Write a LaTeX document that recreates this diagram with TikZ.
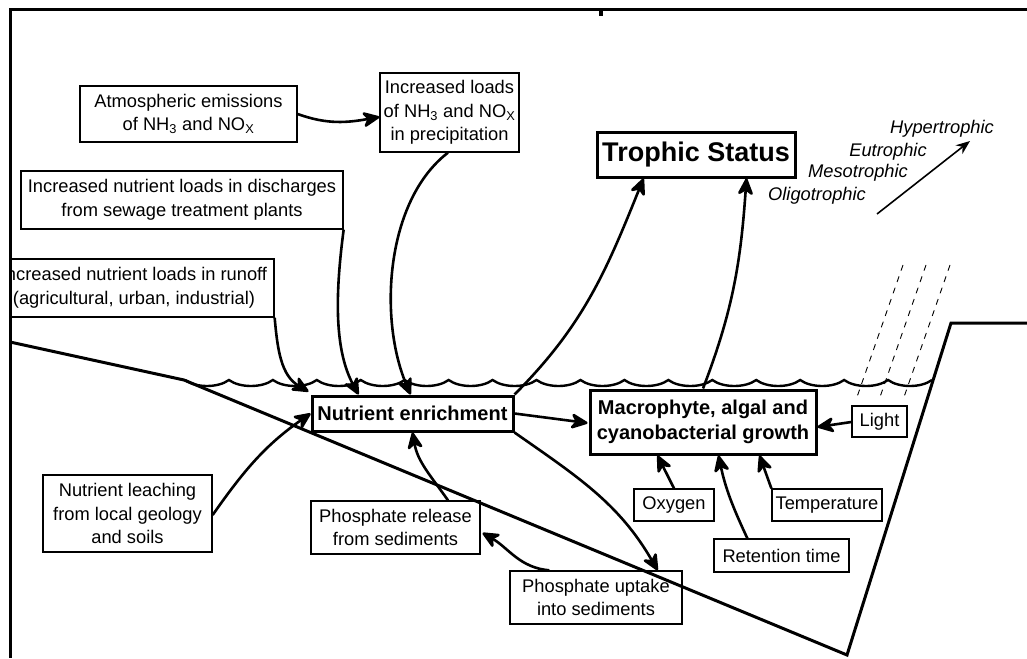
\documentclass[tikz,border=0pt]{standalone}
\usepackage{fontspec}
\setmainfont{Liberation Sans}
\usetikzlibrary{arrows.meta,calc}
\begin{document}
\begin{tikzpicture}[x=1pt,y=1pt,
  box/.style={draw, line width=1.3pt, inner sep=0pt, align=center, font=\fontsize{18.3}{23.5}\selectfont},
  bbox/.style={draw, line width=3pt, inner sep=0pt, align=center, font=\bfseries\fontsize{20}{25}\selectfont},
  conn/.style={line width=2.6pt, -{Stealth[length=20pt,width=18pt,inset=6pt,round]}},
  lbl/.style={font=\itshape\fontsize{18.3}{22}\selectfont, inner sep=0pt},
  frame/.style={line width=3pt},
  bank/.style={line width=3pt, line join=miter},
  wave/.style={line width=2.4pt},
  ray/.style={line width=0.9pt, dash pattern=on 6pt off 6pt}
]
\path[use as bounding box] (0,0) rectangle (1027,-658);

% ground / basin
\coordinate (b0) at (10,-342);
\coordinate (b1) at (184,-380);
\coordinate (b2) at (847,-655);
\coordinate (b3) at (951,-323);
\coordinate (b4) at (1027,-323);
\draw[bank] (b0) -- (b1) -- (b2) -- (b3) -- (b4);

% water surface
\coordinate (wl) at (185,-380);
\draw[wave] (wl) \foreach \i in {1,...,17}{ .. controls +(11,-8) and +(-11,-8) .. ++(43.94,0)};

% light rays
\coordinate (r1a) at (903,-265); \coordinate (r1b) at (857,-397);
\coordinate (r2a) at (926,-265); \coordinate (r2b) at (880,-397);
\coordinate (r3a) at (950,-265); \coordinate (r3b) at (904,-397);
\draw[ray] (r1a) -- (r1b);
\draw[ray] (r2a) -- (r2b);
\draw[ray] (r3a) -- (r3b);

% boxes
\node[box, minimum width=217, minimum height=56] (atm) at (188.5,-114) {Atmospheric emissions\\of NH\textsubscript{3} and NO\textsubscript{X}};
\node[box, minimum width=139, minimum height=79] (loads) at (449.5,-112.5) {Increased loads\\of NH\textsubscript{3} and NO\textsubscript{X}\\in precipitation};
\node[bbox, minimum width=198, minimum height=45, font=\bfseries\fontsize{27}{32}\selectfont] (trophic) at (696,-154.5) {Trophic Status};
\node[box, minimum width=322, minimum height=58] (disch) at (182,-200) {Increased nutrient loads in discharges\\from sewage treatment plants};
\begin{scope}
  \clip (11.5,0) rectangle (1027,-658);
  \node[box, minimum width=280, minimum height=58] (runoff) at (134,-288) {Increased nutrient loads in runoff\\(agricultural, urban, industrial)};
\end{scope}
\node[bbox, minimum width=201, minimum height=35] (ne) at (412.5,-413.5) {Nutrient enrichment};
\node[bbox, minimum width=226, minimum height=64] (macro) at (703,-422) {Macrophyte, algal and\\cyanobacterial growth};
\node[box, minimum width=55, minimum height=31] (light) at (879.5,-421.5) {Light};
\node[box, minimum width=80, minimum height=32] (oxygen) at (674,-505) {Oxygen};
\node[box, minimum width=110, minimum height=32] (temp) at (827,-505) {Temperature};
\node[box, minimum width=135, minimum height=33] (retention) at (781.5,-555.5) {Retention time};
\node[box, minimum width=172, minimum height=53] (uptake) at (596,-597.5) {Phosphate uptake\\into sediments};
\node[box, minimum width=169, minimum height=77] (leaching) at (127.5,-513.5) {Nutrient leaching\\from local geology\\and soils};
\node[box, minimum width=169, minimum height=53] (release) at (395.5,-527.5) {Phosphate release\\from sediments};

% trophic labels
\node[lbl] (hyper) at (942,-129) {Hypertrophic};
\node[lbl] (eu) at (888,-152) {Eutrophic};
\node[lbl] (meso) at (858,-173) {Mesotrophic};
\node[lbl] (oligo) at (817,-196) {Oligotrophic};
\coordinate (ta) at (877,-214);
\coordinate (tb) at (970,-141);
\draw[line width=1.6pt, -{Stealth[length=14pt,width=11pt]}] (ta) -- (tb);

% connectors
\draw[conn] (atm.east) to[out=-20,in=190] ($(loads.west)+(0,-4.5)$);
\draw[conn] ($(loads.south)+(-1.5,0)$) .. controls ($(loads.south)+(-64,-48)$) and ($(ne.north)+(-34,76)$) .. ($(ne.north)+(-2,0)$);
\draw[conn] (disch.south east) .. controls ($(disch.south east)+(-8,-61)$) and ($(ne.north west)+(23,46)$) .. ($(ne.north west)+(48,0)$);
\draw[conn] (runoff.south east) to[out=-85,in=150] ($(ne.north west)+(-2,3)$);
\draw[conn] ($(leaching.east)+(0,-1.5)$) to[out=55,in=215] (ne.west);
\draw[conn] ($(release.north)+(52.5,0)$) to[out=125,in=-80] (ne.south);
\draw[conn] ($(uptake.north west)+(40,0)$) to[out=175,in=-30] ($(release.east)+(2,-5.5)$);
\draw[conn] (ne.south east) to[out=-35,in=120] ($(uptake.north east)+(-25,0)$);
\draw[conn] (ne.east) -- ($(macro.west)+(-1,-1)$);
\draw[conn] (ne.north east) to[out=45,in=-112] ($(trophic.south west)+(48,0)$);
\draw[conn] (macro.north) to[out=69,in=-94] ($(trophic.south east)+(-50,0)$);
\draw[conn] ($(light.west)+(0,-0.5)$) -- ($(macro.east)+(0,-5)$);
\draw[conn] (oxygen.north) -- ($(macro.south west)+(69,0)$);
\draw[conn] ($(retention.north west)+(34,0)$) to[out=115,in=-78] ($(macro.south west)+(130,0)$);
\draw[conn] (temp.north west) -- ($(macro.south west)+(171,0)$);

% frame
\coordinate (f0) at (1027,-10);
\coordinate (f1) at (10,-10);
\coordinate (f2) at (10,-658);
\draw[frame] (f0) -- (f1) -- (f2);
\fill (599,-11) rectangle (603,-16);
\end{tikzpicture}
\end{document}
